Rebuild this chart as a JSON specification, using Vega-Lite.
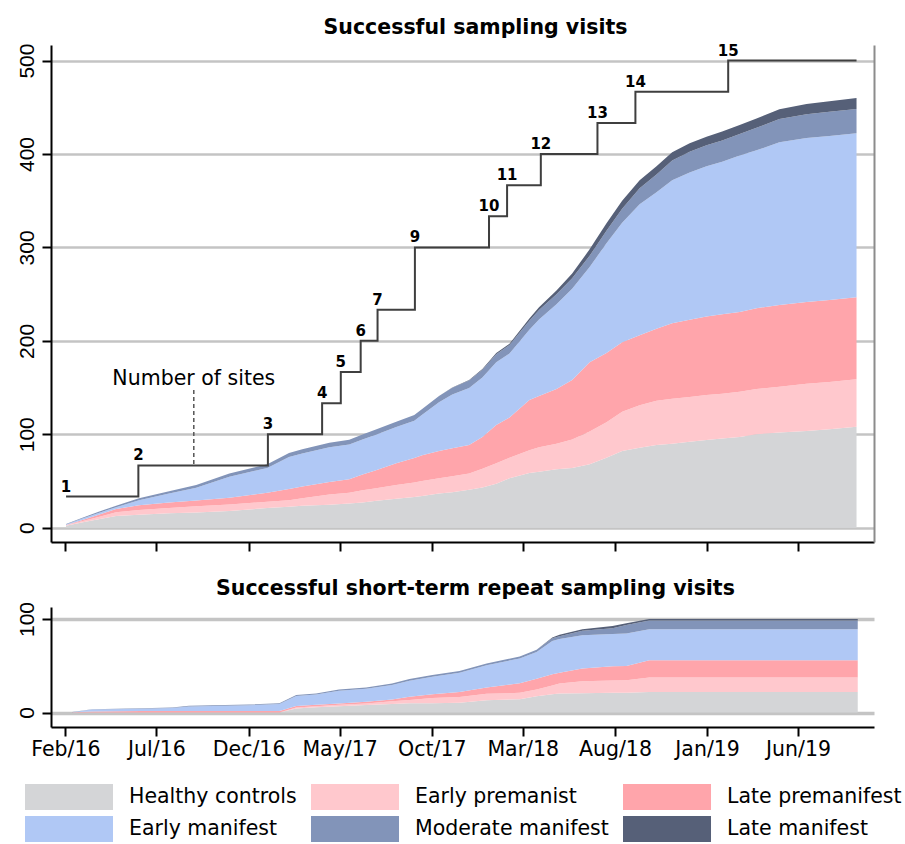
{
  "$schema": "https://vega.github.io/schema/vega-lite/v6.json",
  "background": "white",
  "padding": {"left": 15, "top": 17, "right": 0, "bottom": 0},
  "config": {
    "font": "DejaVu Sans",
    "view": {"stroke": null},
    "axis": {"grid": false, "labelColor": "black", "tickColor": "black", "domainColor": "black", "domainWidth": 2, "tickWidth": 2, "tickSize": 9, "title": null},
    "title": {"font": "DejaVu Sans", "fontSize": 20.5, "fontWeight": "bold", "color": "black", "anchor": "middle", "dx": 13, "baseline": "alphabetic"},
    "legend": {"orient": "bottom", "direction": "horizontal", "columns": 3, "title": null, "symbolType": "M-3,-1H3.77V1H-3Z", "symbolSize": 676, "symbolStrokeWidth": 0, "symbolOpacity": 1, "labelFontSize": 20.5, "labelFont": "DejaVu Sans", "labelColor": "black", "labelOffset": 52, "columnPadding": 14, "rowPadding": 6, "labelLimit": 400, "offset": 24}
  },
  "datasets": {
    "main": [
      {"d": "2016-02-02", "Healthy controls": 2, "Early premanist": 0.5, "Late premanifest": 0.5, "Early manifest": 0.5, "Moderate manifest": 0.5, "Late manifest": 0},
      {"d": "2016-02-28", "Healthy controls": 5.5, "Early premanist": 1.5, "Late premanifest": 1, "Early manifest": 1.5, "Moderate manifest": 1, "Late manifest": 0},
      {"d": "2016-03-27", "Healthy controls": 9, "Early premanist": 2.5, "Late premanifest": 2.5, "Early manifest": 1.7, "Moderate manifest": 1.3, "Late manifest": 0},
      {"d": "2016-04-25", "Healthy controls": 12.5, "Early premanist": 4, "Late premanifest": 3.5, "Early manifest": 2, "Moderate manifest": 1.6, "Late manifest": 0},
      {"d": "2016-06-02", "Healthy controls": 14, "Early premanist": 5, "Late premanifest": 5, "Early manifest": 5.5, "Moderate manifest": 2, "Late manifest": 0},
      {"d": "2016-07-22", "Healthy controls": 15.5, "Early premanist": 5.5, "Late premanifest": 6, "Early manifest": 9.5, "Moderate manifest": 2.5, "Late manifest": 0},
      {"d": "2016-09-05", "Healthy controls": 16.3, "Early premanist": 6.7, "Late premanifest": 6, "Early manifest": 13.7, "Moderate manifest": 3, "Late manifest": 0},
      {"d": "2016-10-30", "Healthy controls": 18, "Early premanist": 6.8, "Late premanifest": 7.2, "Early manifest": 22.5, "Moderate manifest": 3.5, "Late manifest": 0},
      {"d": "2017-01-01", "Healthy controls": 21, "Early premanist": 6.8, "Late premanifest": 9.7, "Early manifest": 26.5, "Moderate manifest": 4, "Late manifest": 0},
      {"d": "2017-02-06", "Healthy controls": 22.5, "Early premanist": 7, "Late premanifest": 12, "Early manifest": 34.2, "Moderate manifest": 4.3, "Late manifest": 0},
      {"d": "2017-02-28", "Healthy controls": 23.5, "Early premanist": 8, "Late premanifest": 12.5, "Early manifest": 35.5, "Moderate manifest": 4.5, "Late manifest": 0},
      {"d": "2017-04-14", "Healthy controls": 24.5, "Early premanist": 11, "Late premanifest": 13.5, "Early manifest": 37, "Moderate manifest": 5, "Late manifest": 0},
      {"d": "2017-05-17", "Healthy controls": 26, "Early premanist": 11.5, "Late premanifest": 14.5, "Early manifest": 37, "Moderate manifest": 5.2, "Late manifest": 0},
      {"d": "2017-06-08", "Healthy controls": 27, "Early premanist": 13, "Late premanifest": 17, "Early manifest": 37.5, "Moderate manifest": 5.3, "Late manifest": 0},
      {"d": "2017-06-28", "Healthy controls": 28.5, "Early premanist": 13.5, "Late premanifest": 19, "Early manifest": 38, "Moderate manifest": 5.5, "Late manifest": 0},
      {"d": "2017-08-03", "Healthy controls": 31, "Early premanist": 14.7, "Late premanifest": 23.3, "Early manifest": 38.7, "Moderate manifest": 5.8, "Late manifest": 0},
      {"d": "2017-09-02", "Healthy controls": 33, "Early premanist": 15.5, "Late premanifest": 26, "Early manifest": 40.1, "Moderate manifest": 6, "Late manifest": 0},
      {"d": "2017-09-15", "Healthy controls": 34, "Early premanist": 16, "Late premanifest": 27.5, "Early manifest": 43.3, "Moderate manifest": 6.2, "Late manifest": 0},
      {"d": "2017-10-13", "Healthy controls": 36.5, "Early premanist": 16.5, "Late premanifest": 29, "Early manifest": 52.2, "Moderate manifest": 6.8, "Late manifest": 0},
      {"d": "2017-11-04", "Healthy controls": 38, "Early premanist": 17, "Late premanifest": 30, "Early manifest": 57.5, "Moderate manifest": 7.2, "Late manifest": 0.3},
      {"d": "2017-12-02", "Healthy controls": 40.5, "Early premanist": 17.5, "Late premanifest": 30.5, "Early manifest": 61, "Moderate manifest": 8, "Late manifest": 0.5},
      {"d": "2017-12-24", "Healthy controls": 43, "Early premanist": 20, "Late premanifest": 34, "Early manifest": 63.7, "Moderate manifest": 8.3, "Late manifest": 1},
      {"d": "2018-01-16", "Healthy controls": 47, "Early premanist": 22, "Late premanifest": 41, "Early manifest": 67, "Moderate manifest": 8.6, "Late manifest": 1.3},
      {"d": "2018-02-07", "Healthy controls": 53, "Early premanist": 22, "Late premanifest": 43, "Early manifest": 68.5, "Moderate manifest": 9, "Late manifest": 1.5},
      {"d": "2018-03-12", "Healthy controls": 58.5, "Early premanist": 24.5, "Late premanifest": 53.7, "Early manifest": 75.2, "Moderate manifest": 9.6, "Late manifest": 2.5},
      {"d": "2018-03-28", "Healthy controls": 60, "Early premanist": 26, "Late premanifest": 55, "Early manifest": 82, "Moderate manifest": 10, "Late manifest": 3},
      {"d": "2018-04-26", "Healthy controls": 62.5, "Early premanist": 27.5, "Late premanifest": 58.5, "Early manifest": 90.8, "Moderate manifest": 10.7, "Late manifest": 4},
      {"d": "2018-05-22", "Healthy controls": 64, "Early premanist": 30.5, "Late premanifest": 63.5, "Early manifest": 97.7, "Moderate manifest": 11.3, "Late manifest": 5},
      {"d": "2018-06-20", "Healthy controls": 68, "Early premanist": 35, "Late premanifest": 74, "Early manifest": 102, "Moderate manifest": 12, "Late manifest": 7},
      {"d": "2018-07-18", "Healthy controls": 75, "Early premanist": 38, "Late premanifest": 74, "Early manifest": 117.5, "Moderate manifest": 13.5, "Late manifest": 8},
      {"d": "2018-08-13", "Healthy controls": 82, "Early premanist": 42, "Late premanifest": 74.5, "Early manifest": 128, "Moderate manifest": 15, "Late manifest": 8.5},
      {"d": "2018-09-11", "Healthy controls": 85.5, "Early premanist": 45.5, "Late premanifest": 75, "Early manifest": 140.3, "Moderate manifest": 17, "Late manifest": 8.7},
      {"d": "2018-10-09", "Healthy controls": 88.5, "Early premanist": 47.5, "Late premanifest": 77, "Early manifest": 146, "Moderate manifest": 19, "Late manifest": 9},
      {"d": "2018-11-04", "Healthy controls": 90, "Early premanist": 48, "Late premanifest": 80.8, "Early manifest": 153.2, "Moderate manifest": 21, "Late manifest": 9},
      {"d": "2018-12-03", "Healthy controls": 92, "Early premanist": 48, "Late premanifest": 82.5, "Early manifest": 157.8, "Moderate manifest": 22, "Late manifest": 9.2},
      {"d": "2018-12-31", "Healthy controls": 94, "Early premanist": 48, "Late premanifest": 84, "Early manifest": 160.8, "Moderate manifest": 22.5, "Late manifest": 9.3},
      {"d": "2019-01-26", "Healthy controls": 95.5, "Early premanist": 48, "Late premanifest": 85, "Early manifest": 163.2, "Moderate manifest": 22.8, "Late manifest": 9.5},
      {"d": "2019-02-24", "Healthy controls": 97, "Early premanist": 48.5, "Late premanifest": 85.5, "Early manifest": 167.5, "Moderate manifest": 23, "Late manifest": 9.5},
      {"d": "2019-03-24", "Healthy controls": 100, "Early premanist": 48.5, "Late premanifest": 86.5, "Early manifest": 169, "Moderate manifest": 24, "Late manifest": 10},
      {"d": "2019-05-01", "Healthy controls": 102, "Early premanist": 49, "Late premanifest": 87.5, "Early manifest": 174, "Moderate manifest": 25, "Late manifest": 10.5},
      {"d": "2019-06-15", "Healthy controls": 103.5, "Early premanist": 50.5, "Late premanifest": 87.7, "Early manifest": 175.4, "Moderate manifest": 25.5, "Late manifest": 11},
      {"d": "2019-07-23", "Healthy controls": 105.5, "Early premanist": 50.5, "Late premanifest": 87.7, "Early manifest": 175.5, "Moderate manifest": 26, "Late manifest": 11.3},
      {"d": "2019-09-06", "Healthy controls": 108, "Early premanist": 51, "Late premanifest": 87.7, "Early manifest": 175.5, "Moderate manifest": 26, "Late manifest": 11.7}
    ],
    "repeat": [
      {"d": "2016-02-12", "Healthy controls": 0, "Early premanist": 0, "Late premanifest": 0.3, "Early manifest": 0, "Moderate manifest": 0.2, "Late manifest": 0},
      {"d": "2016-03-16", "Healthy controls": 0, "Early premanist": 0, "Late premanifest": 1, "Early manifest": 2.3, "Moderate manifest": 0.3, "Late manifest": 0},
      {"d": "2016-06-07", "Healthy controls": 0, "Early premanist": 0, "Late premanifest": 1.5, "Early manifest": 2.6, "Moderate manifest": 0.5, "Late manifest": 0},
      {"d": "2016-07-27", "Healthy controls": 0, "Early premanist": 0, "Late premanifest": 1.5, "Early manifest": 3.4, "Moderate manifest": 0.5, "Late manifest": 0},
      {"d": "2016-08-24", "Healthy controls": 0, "Early premanist": 0, "Late premanifest": 1.5, "Early manifest": 5, "Moderate manifest": 0.6, "Late manifest": 0},
      {"d": "2016-12-02", "Healthy controls": 0, "Early premanist": 0, "Late premanifest": 1.5, "Early manifest": 6.3, "Moderate manifest": 0.8, "Late manifest": 0},
      {"d": "2017-01-21", "Healthy controls": 0, "Early premanist": 0, "Late premanifest": 1.5, "Early manifest": 7.6, "Moderate manifest": 0.9, "Late manifest": 0},
      {"d": "2017-02-18", "Healthy controls": 4.3, "Early premanist": 1.1, "Late premanifest": 1.5, "Early manifest": 10.7, "Moderate manifest": 1, "Late manifest": 0},
      {"d": "2017-03-23", "Healthy controls": 5.5, "Early premanist": 1.3, "Late premanifest": 1.5, "Early manifest": 11, "Moderate manifest": 1.1, "Late manifest": 0},
      {"d": "2017-04-30", "Healthy controls": 6.8, "Early premanist": 1.4, "Late premanifest": 1.5, "Early manifest": 13.6, "Moderate manifest": 1.3, "Late manifest": 0},
      {"d": "2017-06-14", "Healthy controls": 7.9, "Early premanist": 1.7, "Late premanifest": 1.8, "Early manifest": 14, "Moderate manifest": 1.4, "Late manifest": 0},
      {"d": "2017-07-27", "Healthy controls": 9.2, "Early premanist": 2.8, "Late premanifest": 1.8, "Early manifest": 15.6, "Moderate manifest": 1.6, "Late manifest": 0},
      {"d": "2017-08-25", "Healthy controls": 9.8, "Early premanist": 3.7, "Late premanifest": 3.3, "Early manifest": 17.2, "Moderate manifest": 1.7, "Late manifest": 0},
      {"d": "2017-10-02", "Healthy controls": 10, "Early premanist": 5.5, "Late premanifest": 4, "Early manifest": 18.7, "Moderate manifest": 1.8, "Late manifest": 0},
      {"d": "2017-11-16", "Healthy controls": 10.4, "Early premanist": 6.1, "Late premanifest": 5.5, "Early manifest": 20.5, "Moderate manifest": 1.8, "Late manifest": 0},
      {"d": "2017-12-31", "Healthy controls": 13, "Early premanist": 7, "Late premanifest": 6.8, "Early manifest": 23.7, "Moderate manifest": 2, "Late manifest": 0},
      {"d": "2018-02-24", "Healthy controls": 14.3, "Early premanist": 6.7, "Late premanifest": 10.2, "Early manifest": 26.6, "Moderate manifest": 2, "Late manifest": 0},
      {"d": "2018-03-24", "Healthy controls": 17.5, "Early premanist": 7, "Late premanifest": 11.5, "Early manifest": 28.6, "Moderate manifest": 2.4, "Late manifest": 0},
      {"d": "2018-04-19", "Healthy controls": 19.5, "Early premanist": 9.5, "Late premanifest": 12, "Early manifest": 35.5, "Moderate manifest": 3, "Late manifest": 0.8},
      {"d": "2018-05-01", "Healthy controls": 20.4, "Early premanist": 10.6, "Late premanifest": 11.5, "Early manifest": 36, "Moderate manifest": 3, "Late manifest": 1.5},
      {"d": "2018-06-08", "Healthy controls": 20.6, "Early premanist": 12.7, "Late premanifest": 13.7, "Early manifest": 35.5, "Moderate manifest": 5, "Late manifest": 1.5},
      {"d": "2018-07-28", "Healthy controls": 21, "Early premanist": 13.3, "Late premanifest": 15.2, "Early manifest": 34.5, "Moderate manifest": 6, "Late manifest": 2.5},
      {"d": "2018-08-20", "Healthy controls": 21, "Early premanist": 13.6, "Late premanifest": 15, "Early manifest": 34.9, "Moderate manifest": 9, "Late manifest": 1.9},
      {"d": "2018-09-27", "Healthy controls": 21.8, "Early premanist": 15.7, "Late premanifest": 18.5, "Early manifest": 33, "Moderate manifest": 9.5, "Late manifest": 1.5},
      {"d": "2019-09-08", "Healthy controls": 21.8, "Early premanist": 15.7, "Late premanifest": 18.5, "Early manifest": 33, "Moderate manifest": 9.5, "Late manifest": 1.5}
    ],
    "sites": [
      {"d": "2016-02-02", "v": 33.33, "lbl": "1"},
      {"d": "2016-06-01", "v": 66.67, "lbl": "2"},
      {"d": "2017-01-02", "v": 100, "lbl": "3"},
      {"d": "2017-04-02", "v": 133.33, "lbl": "4"},
      {"d": "2017-05-03", "v": 166.67, "lbl": "5"},
      {"d": "2017-06-05", "v": 200, "lbl": "6"},
      {"d": "2017-07-03", "v": 233.33, "lbl": "7"},
      {"d": "2017-09-03", "v": 300, "lbl": "9"},
      {"d": "2018-01-04", "v": 333.33, "lbl": "10"},
      {"d": "2018-02-03", "v": 366.67, "lbl": "11"},
      {"d": "2018-03-31", "v": 400, "lbl": "12"},
      {"d": "2018-07-03", "v": 433.33, "lbl": "13"},
      {"d": "2018-09-04", "v": 466.67, "lbl": "14"},
      {"d": "2019-02-05", "v": 500, "lbl": "15"},
      {"d": "2019-09-06", "v": 500, "lbl": ""}
    ],
    "note": [
      {"d": "2016-09-01", "v": 147.4, "v2": 66.67, "t": "Number of sites", "tv": 152.7}
    ]
  },
  "vconcat": [
    {
      "width": 823,
      "height": 497,
      "title": {"text": "Successful sampling visits", "offset": 5},
      "encoding": {
        "x": {
          "field": "d", "type": "temporal",
          "scale": {"type": "utc", "domain": [{"year": 2016, "month": 1, "date": 8, "utc": true}, {"year": 2019, "month": 10, "date": 5, "utc": true}]},
          "axis": {
            "labels": false,
            "values": [
              {"year": 2016, "month": 2, "date": 1, "utc": true},
              {"year": 2016, "month": 7, "date": 1, "utc": true},
              {"year": 2016, "month": 12, "date": 1, "utc": true},
              {"year": 2017, "month": 5, "date": 1, "utc": true},
              {"year": 2017, "month": 10, "date": 1, "utc": true},
              {"year": 2018, "month": 3, "date": 1, "utc": true},
              {"year": 2018, "month": 8, "date": 1, "utc": true},
              {"year": 2019, "month": 1, "date": 1, "utc": true},
              {"year": 2019, "month": 6, "date": 1, "utc": true}
            ]
          }
        }
      },
      "layer": [
        {
          "data": {"name": "main"},
          "transform": [
            {"fold": ["Healthy controls", "Early premanist", "Late premanifest", "Early manifest", "Moderate manifest", "Late manifest"], "as": ["grp", "val"]},
            {"calculate": "indexof(['Healthy controls', 'Early premanist', 'Late premanifest', 'Early manifest', 'Moderate manifest', 'Late manifest'], datum.grp)", "as": "k"}
          ],
          "mark": {"type": "area", "interpolate": "linear", "opacity": 1},
          "encoding": {
            "y": {
              "field": "val", "type": "quantitative", "stack": "zero",
              "scale": {"domain": [-15.3, 516.7], "nice": false, "zero": false},
              "axis": {"values": [0, 100, 200, 300, 400, 500], "grid": true, "gridColor": "#c4c4c4", "gridWidth": 2.5, "labelAngle": -90, "labelAlign": "center", "labelBaseline": "bottom", "labelFont": "Liberation Sans Narrow, Liberation Sans", "labelFontSize": 21, "labelPadding": 5}
            },
            "color": {
              "field": "grp", "type": "nominal",
              "sort": ["Healthy controls", "Early premanist", "Late premanifest", "Early manifest", "Moderate manifest", "Late manifest"],
              "scale": {"domain": ["Healthy controls", "Early premanist", "Late premanifest", "Early manifest", "Moderate manifest", "Late manifest"], "range": ["#d4d5d7", "#ffc8cd", "#ffa5ab", "#b0c8f5", "#8294b9", "#566078"]}
            },
            "order": {"field": "k", "type": "quantitative", "sort": "ascending"}
          }
        },
        {
          "data": {"name": "sites"},
          "mark": {"type": "line", "interpolate": "step-after", "color": "#3f3f3f", "strokeWidth": 2},
          "encoding": {
            "y": {"field": "v", "type": "quantitative", "axis": {"orient": "right", "labels": false, "ticks": false, "grid": false, "domainColor": "#8c8c8c", "domainWidth": 2}}
          }
        },
        {
          "data": {"name": "sites"},
          "mark": {"type": "text", "align": "center", "baseline": "alphabetic", "dy": -5, "fontSize": 15, "fontWeight": "bold", "color": "black"},
          "encoding": {
            "y": {"field": "v", "type": "quantitative", "axis": null},
            "text": {"field": "lbl"}
          }
        },
        {
          "data": {"name": "note"},
          "mark": {"type": "rule", "color": "#555555", "strokeWidth": 1.5, "strokeDash": [4, 3]},
          "encoding": {
            "y": {"field": "v", "type": "quantitative", "axis": null},
            "y2": {"field": "v2"}
          }
        },
        {
          "data": {"name": "note"},
          "mark": {"type": "text", "align": "center", "baseline": "alphabetic", "fontSize": 20.5, "color": "black"},
          "encoding": {
            "y": {"field": "tv", "type": "quantitative", "axis": null},
            "text": {"field": "t"}
          }
        }
      ],
      "resolve": {"axis": {"y": "independent"}}
    },
    {
      "width": 823,
      "height": 120,
      "title": {"text": "Successful short-term repeat sampling visits", "offset": 2},
      "data": {"name": "repeat"},
      "transform": [
        {"fold": ["Healthy controls", "Early premanist", "Late premanifest", "Early manifest", "Moderate manifest", "Late manifest"], "as": ["grp", "val"]},
        {"calculate": "indexof(['Healthy controls', 'Early premanist', 'Late premanifest', 'Early manifest', 'Moderate manifest', 'Late manifest'], datum.grp)", "as": "k"}
      ],
      "mark": {"type": "area", "interpolate": "linear", "opacity": 1},
      "encoding": {
        "x": {
          "field": "d", "type": "temporal",
          "scale": {"type": "utc", "domain": [{"year": 2016, "month": 1, "date": 8, "utc": true}, {"year": 2019, "month": 10, "date": 5, "utc": true}]},
          "axis": {
            "format": "%b/%y", "labelFontSize": 20.5, "labelPadding": 3, "labelFlush": false, "labelOverlap": false,
            "values": [
              {"year": 2016, "month": 2, "date": 1, "utc": true},
              {"year": 2016, "month": 7, "date": 1, "utc": true},
              {"year": 2016, "month": 12, "date": 1, "utc": true},
              {"year": 2017, "month": 5, "date": 1, "utc": true},
              {"year": 2017, "month": 10, "date": 1, "utc": true},
              {"year": 2018, "month": 3, "date": 1, "utc": true},
              {"year": 2018, "month": 8, "date": 1, "utc": true},
              {"year": 2019, "month": 1, "date": 1, "utc": true},
              {"year": 2019, "month": 6, "date": 1, "utc": true}
            ]
          }
        },
        "y": {
          "field": "val", "type": "quantitative", "stack": "zero",
          "scale": {"domain": [-15.5, 112.8], "nice": false, "zero": false},
          "axis": {"values": [0, 100], "grid": true, "gridColor": "#c4c4c4", "gridWidth": 3.5, "labelAngle": -90, "labelAlign": "center", "labelBaseline": "bottom", "labelFont": "Liberation Sans Narrow, Liberation Sans", "labelFontSize": 21, "labelPadding": 5}
        },
        "color": {
          "field": "grp", "type": "nominal",
          "sort": ["Healthy controls", "Early premanist", "Late premanifest", "Early manifest", "Moderate manifest", "Late manifest"],
          "scale": {"domain": ["Healthy controls", "Early premanist", "Late premanifest", "Early manifest", "Moderate manifest", "Late manifest"], "range": ["#d4d5d7", "#ffc8cd", "#ffa5ab", "#b0c8f5", "#8294b9", "#566078"]}
        },
        "order": {"field": "k", "type": "quantitative", "sort": "ascending"}
      }
    }
  ],
  "spacing": 26
}
